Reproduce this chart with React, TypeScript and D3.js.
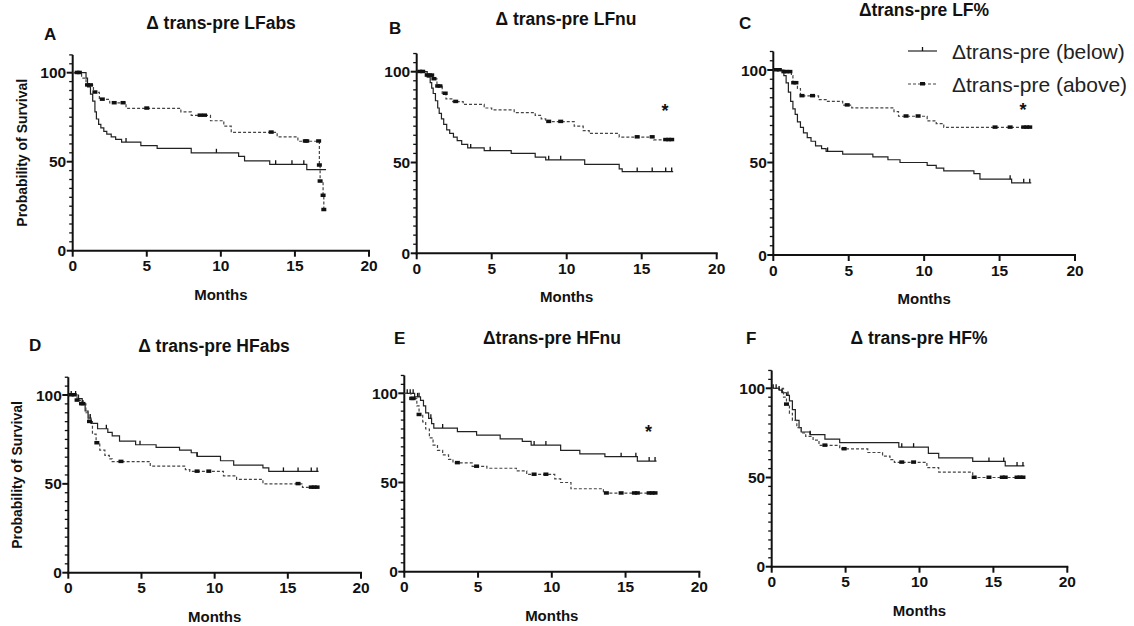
import React, { useEffect, useRef } from "react";
import * as d3 from "d3";

type Step = [number, number];

const monthTicks = [0, 5, 10, 15, 20];
const survivalTicks = [0, 50, 100];
const followUpEnd = 17.1;

// A  Δ trans-pre LFabs
const lfabsBelow: Step[] = [[0, 100], [0.9, 97], [1.0, 92], [1.2, 88], [1.35, 84], [1.5, 78], [1.6, 74], [1.75, 71], [1.9, 69], [2.1, 67], [2.3, 65.5], [2.6, 64], [2.9, 62.5], [3.3, 61], [4.6, 59], [5.7, 57.5], [8.0, 55], [11.2, 53], [11.6, 50.5], [13.3, 48.5], [15.8, 45.5]];
const lfabsBelowCensored = [3.6, 9.7, 13.7, 14.8, 15.6];
const lfabsAbove: Step[] = [[0, 100], [0.6, 97], [0.9, 93], [1.4, 89], [1.8, 85], [2.5, 83], [3.6, 80], [7.3, 78], [8.0, 76], [9.3, 73], [10.2, 70], [10.7, 66.5], [13.8, 64], [15.2, 61.5], [16.65, 48], [16.7, 39], [16.9, 31], [16.95, 23]];
const lfabsAboveCensored = [0.3, 0.45, 1.0, 1.2, 1.5, 2.0, 2.8, 3.4, 5.0, 8.6, 8.9, 13.4, 15.7, 15.8, 16.6, 16.65, 16.7, 16.9, 16.95];

// B  Δ trans-pre LFnu
const lfnuBelow: Step[] = [[0, 100], [0.7, 97], [0.9, 94], [1.0, 91], [1.1, 88], [1.25, 84], [1.4, 80], [1.5, 77], [1.65, 74], [1.8, 71], [2.0, 68], [2.2, 66], [2.45, 64], [2.7, 62], [3.0, 60], [3.4, 58], [4.5, 56.5], [6.3, 55], [7.9, 53], [8.6, 51.5], [11.2, 49], [13.5, 46.5], [13.7, 45]];
const lfnuBelowCensored = [3.6, 4.9, 8.8, 9.6, 14.7, 15.7, 16.6, 17.0];
const lfnuAbove: Step[] = [[0, 100], [0.6, 98], [1.05, 96], [1.35, 92], [1.7, 88], [1.95, 85], [2.4, 83.5], [3.1, 82], [4.5, 80], [5.0, 79], [6.5, 77.5], [7.9, 76], [8.3, 74], [8.6, 72.5], [10.5, 70], [11.1, 67.5], [11.5, 66], [13.5, 64], [15.8, 62.5]];
const lfnuAboveCensored = [0.2, 0.4, 0.7, 0.85, 1.0, 1.15, 1.4, 1.55, 1.9, 2.6, 8.8, 9.6, 14.7, 15.7, 16.6, 16.8, 17.0];

// C  Δtrans-pre LF%
const lfpctBelow: Step[] = [[0, 100], [0.7, 97], [0.85, 93], [1.0, 88], [1.15, 83], [1.3, 79], [1.45, 76], [1.6, 72], [1.8, 69], [2.0, 66], [2.25, 63.5], [2.5, 61.5], [2.8, 59], [3.2, 57.5], [3.5, 56], [4.6, 54.5], [6.6, 53], [7.6, 51.5], [8.4, 50], [10.2, 48.5], [10.8, 47], [11.3, 45.5], [13.3, 44], [13.7, 41], [15.8, 39]];
const lfpctBelowCensored = [3.6, 15.7, 16.6, 17.0];
const lfpctAbove: Step[] = [[0, 100], [0.65, 99], [1.2, 97], [1.3, 93], [1.6, 90], [1.8, 86], [3.0, 84], [3.5, 83], [4.6, 81], [5.2, 79.5], [8.0, 77.5], [8.3, 75], [10.2, 72.5], [10.8, 71], [11.3, 69]];
const lfpctAboveCensored = [0.2, 0.4, 0.7, 0.9, 1.1, 1.35, 1.5, 1.9, 2.6, 4.9, 8.8, 9.6, 14.7, 15.7, 16.6, 16.8, 17.0];

// D  Δ trans-pre HFabs
const hfabsBelow: Step[] = [[0, 100], [0.7, 98], [0.95, 95], [1.15, 91], [1.35, 87], [1.55, 84], [2.0, 81], [2.7, 79], [3.0, 77], [3.5, 74], [4.6, 72], [6.0, 70.5], [7.6, 69], [8.4, 67.5], [8.8, 65.5], [10.4, 63], [11.3, 60.5], [13.3, 59], [13.7, 57]];
const hfabsBelowCensored = [0.2, 0.5, 1.0, 1.5, 2.6, 4.9, 8.8, 14.7, 15.7, 16.6, 17.0];
const hfabsAbove: Step[] = [[0, 100], [0.6, 97], [0.9, 95], [1.2, 90], [1.4, 85], [1.65, 78], [1.9, 73], [2.15, 69], [2.5, 66], [2.8, 64], [3.0, 62.5], [5.6, 60], [8.0, 58], [8.3, 57], [10.6, 54.5], [11.5, 52.5], [13.3, 50], [16.0, 48]];
const hfabsAboveCensored = [0.2, 0.4, 0.6, 0.9, 1.0, 1.45, 1.95, 3.6, 8.8, 9.6, 15.7, 16.6, 16.8, 17.0];

// E  Δtrans-pre HFnu
const hfnuBelow: Step[] = [[0, 100], [0.7, 98], [1.1, 96], [1.3, 93], [1.45, 89], [1.65, 86], [1.85, 83], [2.0, 80.5], [3.6, 78.5], [4.9, 76.5], [6.5, 74.5], [8.0, 73], [8.6, 71], [10.6, 68], [11.9, 66], [13.6, 64.5], [15.8, 62]];
const hfnuBelowCensored = [0.2, 0.4, 0.6, 0.9, 1.0, 1.8, 2.6, 8.8, 9.6, 14.7, 15.7, 16.6, 17.0];
const hfnuAbove: Step[] = [[0, 100], [0.45, 97], [0.85, 93], [1.0, 88], [1.25, 84], [1.45, 80], [1.7, 75], [1.95, 71], [2.25, 68], [2.6, 65.5], [3.0, 63], [3.3, 61], [4.6, 59], [5.6, 58], [7.6, 56.5], [8.3, 54.5], [10.2, 52], [10.6, 50], [11.3, 46.5], [13.5, 44]];
const hfnuAboveCensored = [0.5, 0.6, 1.0, 3.6, 4.9, 8.8, 9.6, 13.7, 14.7, 15.6, 15.8, 16.6, 16.8, 17.0];

// F  Δ trans-pre HF%
const hfpctBelow: Step[] = [[0, 100], [0.5, 99], [0.7, 97.5], [1.0, 96], [1.2, 93], [1.4, 88], [1.6, 82], [1.85, 78], [2.0, 75.5], [2.6, 74], [3.6, 71.5], [4.6, 69.5], [8.6, 67], [10.6, 63.5], [11.3, 61], [13.6, 59], [15.8, 56.5]];
const hfpctBelowCensored = [0.1, 0.3, 0.5, 0.7, 1.1, 2.6, 8.8, 9.6, 14.7, 15.7, 16.6, 17.0];
const hfpctAbove: Step[] = [[0, 100], [0.8, 95], [1.0, 91], [1.2, 86], [1.4, 82], [1.7, 78], [2.0, 75], [2.3, 73], [2.8, 71], [3.2, 68], [4.6, 66], [6.5, 64], [7.5, 62], [8.0, 60], [8.3, 58.5], [10.5, 55.5], [11.3, 53], [13.6, 50]];
const hfpctAboveCensored = [1.0, 3.6, 4.9, 8.8, 9.6, 13.7, 14.7, 15.6, 15.8, 16.6, 16.8, 17.0];

const legendLabels = ["Δtrans-pre (below)", "Δtrans-pre (above)"];

// significance marker (month, survival %) where shown
const starAt: [number, number] = [16.55, 80.5];

const panels = [
  { letter: "A", title: "Δ trans-pre LFabs", below: lfabsBelow, belowCens: lfabsBelowCensored, above: lfabsAbove, aboveCens: lfabsAboveCensored, star: false, yLabel: true,
    left: 72.7, right: 369, bottom: 250.7, top100: 72.7, titleX: 221, titleY: 29, letterX: 44, letterY: 40 },
  { letter: "B", title: "Δ trans-pre LFnu", below: lfnuBelow, belowCens: lfnuBelowCensored, above: lfnuAbove, aboveCens: lfnuAboveCensored, star: true, yLabel: false,
    left: 416.7, right: 716.7, bottom: 253.3, top100: 71.7, titleX: 566, titleY: 25, letterX: 389, letterY: 34 },
  { letter: "C", title: "Δtrans-pre LF%", below: lfpctBelow, belowCens: lfpctBelowCensored, above: lfpctAbove, aboveCens: lfpctAboveCensored, star: true, yLabel: false,
    left: 773.3, right: 1075, bottom: 255, top100: 70, titleX: 924, titleY: 16, letterX: 739, letterY: 29 },
  { letter: "D", title: "Δ trans-pre HFabs", below: hfabsBelow, belowCens: hfabsBelowCensored, above: hfabsAbove, aboveCens: hfabsAboveCensored, star: false, yLabel: true,
    left: 68.3, right: 361, bottom: 572.7, top100: 395, titleX: 214, titleY: 352, letterX: 29, letterY: 351 },
  { letter: "E", title: "Δtrans-pre HFnu", below: hfnuBelow, belowCens: hfnuBelowCensored, above: hfnuAbove, aboveCens: hfnuAboveCensored, star: true, yLabel: false,
    left: 404.3, right: 699.3, bottom: 571.7, top100: 393.3, titleX: 552, titleY: 344, letterX: 394, letterY: 344 },
  { letter: "F", title: "Δ trans-pre HF%", below: hfpctBelow, belowCens: hfpctBelowCensored, above: hfpctAbove, aboveCens: hfpctAboveCensored, star: false, yLabel: false,
    left: 771.7, right: 1067.3, bottom: 566.7, top100: 388.3, titleX: 919, titleY: 344, letterX: 746, letterY: 344 },
];

const font = "'Liberation Sans', Arial, Helvetica, sans-serif";
const ink = "#111";

const survivalAt = (steps: Step[], t: number) => {
  let s = 100;
  for (const [tt, v] of steps) if (tt <= t) s = v;
  return s;
};

const App = () => {
  const svgRef = useRef<SVGSVGElement>(null);

  useEffect(() => {
    const svg = d3.select(svgRef.current);
    svg.selectAll("*").remove();

    panels.forEach((p) => {
      const x = d3.scaleLinear().domain([0, 20]).range([p.left, p.right]);
      const y = d3.scaleLinear().domain([0, 100]).range([p.bottom, p.top100]);
      const g = svg.append("g");

      // y axis, minor ticks every 5
      g.append("line")
        .attr("x1", p.left).attr("x2", p.left)
        .attr("y1", y(0) + 1).attr("y2", y(110))
        .attr("stroke", ink).attr("stroke-width", 2);
      d3.range(5, 115, 5).filter((v) => v % 50 !== 0).forEach((v) => {
        g.append("line")
          .attr("x1", p.left - 3.5).attr("x2", p.left)
          .attr("y1", y(v)).attr("y2", y(v))
          .attr("stroke", ink).attr("stroke-width", 1.3);
      });
      survivalTicks.forEach((v) => {
        g.append("line")
          .attr("x1", p.left - 6).attr("x2", p.left)
          .attr("y1", y(v)).attr("y2", y(v))
          .attr("stroke", ink).attr("stroke-width", 2);
        g.append("text")
          .attr("x", p.left - 6.5).attr("y", y(v) + 5.5)
          .attr("text-anchor", "end")
          .style("font-family", font).style("font-weight", "bold").style("font-size", "15.5px")
          .style("fill", "#111")
          .text(v);
      });

      // x axis
      g.append("line")
        .attr("x1", p.left - 1).attr("x2", x(20) + 1)
        .attr("y1", p.bottom).attr("y2", p.bottom)
        .attr("stroke", ink).attr("stroke-width", 2);
      monthTicks.forEach((v) => {
        g.append("line")
          .attr("x1", x(v)).attr("x2", x(v))
          .attr("y1", p.bottom).attr("y2", p.bottom + 6)
          .attr("stroke", ink).attr("stroke-width", 2);
        g.append("text")
          .attr("x", x(v)).attr("y", p.bottom + 20.5)
          .attr("text-anchor", "middle")
          .style("font-family", font).style("font-weight", "bold").style("font-size", "15.5px")
          .style("fill", "#111")
          .text(v);
      });

      g.append("text")
        .attr("x", (p.left + p.right) / 2).attr("y", p.bottom + 49)
        .attr("text-anchor", "middle")
        .style("font-family", font).style("font-weight", "bold").style("font-size", "15px")
        .style("fill", "#111")
        .text("Months");

      if (p.yLabel) {
        g.append("text")
          .attr("transform", `translate(${p.left - 46},${(p.bottom + y(110)) / 2}) rotate(-90)`)
          .attr("text-anchor", "middle")
          .style("font-family", font).style("font-weight", "bold").style("font-size", "14px")
          .style("fill", "#111")
          .text("Probability of Survival");
      }

      g.append("text")
        .attr("x", p.titleX).attr("y", p.titleY)
        .attr("text-anchor", "middle")
        .style("font-family", font).style("font-weight", "bold").style("font-size", "17.5px")
        .style("fill", "#111")
        .text(p.title);
      g.append("text")
        .attr("x", p.letterX).attr("y", p.letterY)
        .style("font-family", font).style("font-weight", "bold").style("font-size", "17px")
        .style("fill", "#111")
        .text(p.letter);

      const line = d3.line<Step>()
        .x((d) => x(d[0]))
        .y((d) => y(d[1]))
        .curve(d3.curveStepAfter);

      const withEnd = (steps: Step[]): Step[] => [...steps, [followUpEnd, steps[steps.length - 1][1]]];

      g.append("path")
        .datum(withEnd(p.below))
        .attr("d", line)
        .attr("fill", "none")
        .attr("stroke", "#222")
        .attr("stroke-width", 1.2);

      g.append("path")
        .datum(withEnd(p.above))
        .attr("d", line)
        .attr("fill", "none")
        .attr("stroke", "#444")
        .attr("stroke-width", 1.2)
        .attr("stroke-dasharray", "3,2");

      p.belowCens.forEach((t) => {
        const yy = y(survivalAt(p.below, t));
        g.append("line")
          .attr("x1", x(t)).attr("x2", x(t))
          .attr("y1", yy).attr("y2", yy - 4)
          .attr("stroke", ink).attr("stroke-width", 1.3);
      });
      p.aboveCens.forEach((t) => {
        const yy = y(survivalAt(p.above, t));
        g.append("rect")
          .attr("x", x(t) - 2.5).attr("y", yy - 2)
          .attr("width", 5).attr("height", 3.5)
          .attr("fill", ink);
      });

      if (p.star) {
        g.append("text")
          .attr("x", x(starAt[0])).attr("y", y(starAt[1]) + 10)
          .attr("text-anchor", "middle")
          .style("font-family", font).style("font-weight", "bold").style("font-size", "18px")
          .style("fill", "#111")
          .text("*");
      }
    });

    // legend
    const lg = svg.append("g");
    const rows = [51, 84];
    rows.forEach((ly, i) => {
      lg.append("line")
        .attr("x1", 908).attr("x2", 937)
        .attr("y1", ly).attr("y2", ly)
        .attr("stroke", i === 0 ? "#222" : "#444")
        .attr("stroke-width", 1.2)
        .attr("stroke-dasharray", i === 0 ? null : "3,2");
      if (i === 0) {
        lg.append("line")
          .attr("x1", 922.5).attr("x2", 922.5)
          .attr("y1", ly).attr("y2", ly - 4)
          .attr("stroke", ink).attr("stroke-width", 1.3);
      } else {
        lg.append("rect")
          .attr("x", 920).attr("y", ly - 2)
          .attr("width", 5).attr("height", 3.5)
          .attr("fill", ink);
      }
      lg.append("text")
        .attr("x", 952).attr("y", ly + 7.5)
        .style("font-family", font).style("font-size", "21px")
        .style("fill", "#222")
        .text(legendLabels[i]);
    });
  }, []);

  return (
    <svg
      ref={svgRef}
      width={1134}
      height={626}
      style={{ position: "absolute", left: 0, top: 0, background: "#fff" }}
    />
  );
};

export default App;
